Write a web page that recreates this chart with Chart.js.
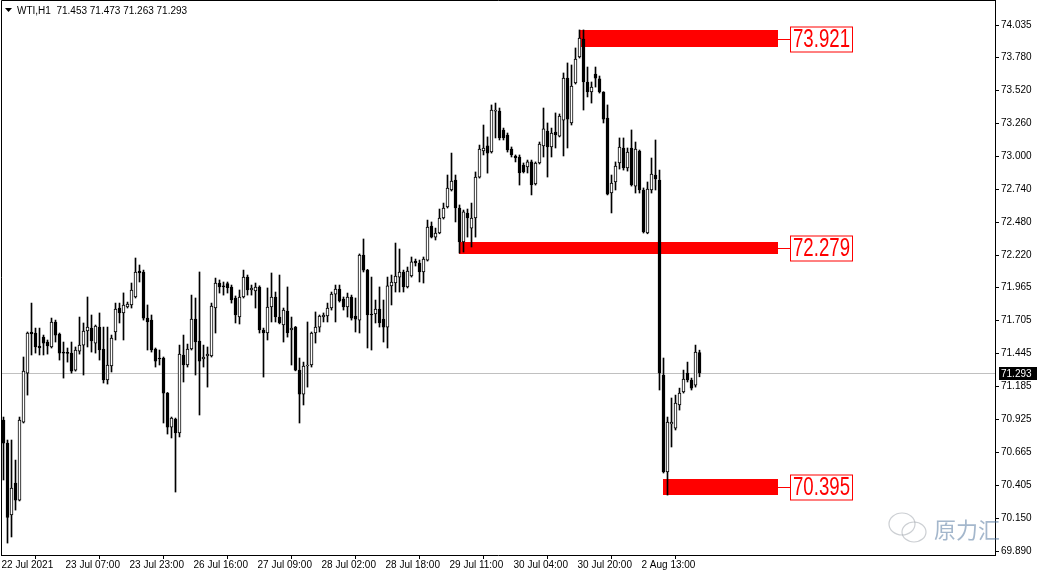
<!DOCTYPE html>
<html>
<head>
<meta charset="utf-8">
<script src="https://cdn.jsdelivr.net/npm/chart.js@4.4.1/dist/chart.umd.min.js"></script>
<style>
  html, body { margin: 0; padding: 0; background: #fff; overflow: hidden; }
  canvas { display: block; }
</style>
</head>
<body>
<canvas id="wtiChart" width="1038" height="576"></canvas>
<script>
// ============ WTI H1 candles ============
const symbolTitle = 'WTI,H1  71.453 71.473 71.263 71.293';

// one label every 16 bars
const timeLabels = ['22 Jul 2021', '23 Jul 07:00', '23 Jul 23:00', '26 Jul 16:00', '27 Jul 09:00',
  '28 Jul 02:00', '28 Jul 18:00', '29 Jul 11:00', '30 Jul 04:00', '30 Jul 20:00', '2 Aug 13:00'];

const priceTicks = [69.890, 70.150, 70.405, 70.665, 70.925, 71.185, 71.445, 71.705, 71.965,
  72.220, 72.480, 72.740, 73.000, 73.260, 73.520, 73.780, 74.035];

const opens = [
  70.922, 70.741, 70.174, 70.426, 70.292, 70.906, 71.292, 71.616, 71.608, 71.506,
  71.576, 71.537, 71.498, 71.695, 71.600, 71.458, 71.455, 71.450, 71.316, 71.466,
  71.513, 71.624, 71.647, 71.529, 71.655, 71.482, 71.238, 71.348, 71.616, 71.805,
  71.766, 71.813, 71.829, 71.892, 72.096, 72.089, 71.726, 71.710, 71.482, 71.411,
  71.411, 71.135, 70.867, 70.930, 70.820, 71.435, 71.356, 71.482, 71.718, 71.545,
  71.403, 71.427, 71.427, 71.805, 72.002, 71.979, 71.998, 71.971, 71.884, 71.734,
  71.892, 72.049, 71.947, 71.939, 71.971, 71.632, 71.608, 71.813, 71.892, 71.734,
  71.671, 71.781, 71.632, 71.655, 71.316, 71.127, 71.348, 71.356, 71.608, 71.655,
  71.734, 71.742, 71.805, 71.915, 71.955, 71.876, 71.813, 71.892, 71.742, 71.710,
  72.223, 72.104, 71.758, 71.758, 71.797, 71.718, 71.655, 71.979, 72.002, 72.049,
  72.089, 71.971, 72.057, 72.175, 72.160, 72.089, 72.183, 72.451, 72.364, 72.396,
  72.514, 72.601, 72.735, 72.814, 72.593, 72.325, 72.554, 72.435, 72.514, 72.837,
  73.042, 73.082, 73.034, 73.357, 73.357, 73.208, 73.168, 73.058, 73.003, 72.995,
  72.932, 72.916, 72.956, 72.782, 72.948, 73.082, 73.200, 73.074, 73.192, 73.160,
  73.286, 73.617, 73.263, 73.578, 73.783, 73.925, 73.586, 73.507, 73.649, 73.610,
  73.507, 73.302, 72.711, 72.798, 72.948, 73.066, 72.908, 73.066, 72.766, 73.042,
  72.735, 72.396, 72.735, 72.853, 72.814, 71.277, 70.513, 70.891, 70.859, 71.041,
  71.143, 71.293, 71.238, 71.198, 71.453
];
const highs = [
  70.946, 70.765, 70.765, 70.607, 70.946, 71.419, 71.616, 71.844, 71.647, 71.647,
  71.592, 71.553, 71.726, 71.710, 71.608, 71.537, 71.490, 71.537, 71.498, 71.734,
  71.687, 71.892, 71.750, 71.671, 71.766, 71.655, 71.655, 71.592, 71.844, 71.844,
  71.924, 71.852, 72.002, 72.199, 72.144, 72.104, 71.829, 71.750, 71.490, 71.474,
  71.419, 71.140, 70.946, 70.938, 71.513, 71.592, 71.521, 71.907, 71.884, 72.089,
  71.513, 71.498, 71.844, 72.041, 72.026, 72.010, 72.010, 71.986, 71.900, 71.947,
  72.104, 72.065, 71.986, 72.002, 71.980, 71.647, 71.963, 72.081, 71.931, 72.065,
  71.805, 71.971, 71.734, 71.660, 71.411, 71.379, 71.695, 71.616, 71.774, 71.750,
  71.766, 71.844, 71.931, 71.986, 71.986, 71.892, 71.923, 71.907, 71.884, 72.231,
  72.349, 72.110, 72.049, 71.868, 71.971, 71.868, 72.049, 72.065, 72.317, 72.270,
  72.104, 72.128, 72.207, 72.191, 72.183, 72.207, 72.498, 72.483, 72.435, 72.585,
  72.632, 72.853, 73.026, 72.853, 72.617, 72.577, 72.585, 72.632, 72.877, 73.089,
  73.247, 73.153, 73.405, 73.420, 73.381, 73.223, 73.184, 73.074, 73.011, 73.011,
  72.948, 72.971, 72.971, 72.956, 73.113, 73.381, 73.263, 73.223, 73.342, 73.334,
  73.657, 73.736, 73.720, 73.854, 73.996, 73.996, 73.704, 73.586, 73.704, 73.633,
  73.510, 73.405, 72.853, 72.956, 73.145, 73.145, 73.066, 73.208, 73.113, 73.050,
  72.751, 72.798, 72.987, 73.129, 72.892, 71.411, 70.946, 71.096, 71.119, 71.174,
  71.316, 71.379, 71.253, 71.513, 71.473
];
const lows = [
  70.450, 69.953, 70.001, 70.213, 70.285, 70.899, 71.119, 71.435, 71.450, 71.435,
  71.435, 71.442, 71.490, 71.537, 71.395, 71.253, 71.379, 71.292, 71.308, 71.442,
  71.277, 71.498, 71.458, 71.450, 71.395, 71.214, 71.206, 71.301, 71.553, 71.687,
  71.553, 71.805, 71.805, 71.884, 72.010, 71.710, 71.474, 71.458, 71.340, 71.356,
  70.899, 70.812, 70.781, 70.355, 70.789, 71.222, 71.340, 71.474, 71.277, 70.962,
  71.340, 71.182, 71.419, 71.608, 71.923, 71.907, 71.923, 71.844, 71.687, 71.679,
  71.884, 71.907, 71.907, 71.805, 71.608, 71.261, 71.553, 71.695, 71.695, 71.680,
  71.537, 71.576, 71.356, 71.310, 70.899, 71.041, 71.182, 71.340, 71.529, 71.616,
  71.695, 71.695, 71.789, 71.695, 71.852, 71.789, 71.734, 71.710, 71.616, 71.608,
  72.089, 71.490, 71.474, 71.687, 71.655, 71.537, 71.490, 71.829, 71.931, 71.931,
  71.931, 71.963, 72.049, 72.136, 72.010, 72.002, 72.175, 72.357, 72.341, 72.390,
  72.506, 72.593, 72.727, 72.483, 72.238, 72.246, 72.364, 72.286, 72.364, 72.829,
  73.011, 72.868, 73.026, 73.145, 73.129, 73.129, 73.034, 72.995, 72.956, 72.774,
  72.869, 72.869, 72.696, 72.774, 72.940, 72.995, 72.837, 72.995, 73.066, 73.153,
  73.003, 73.066, 73.247, 73.570, 73.775, 73.365, 73.468, 73.420, 73.546, 73.499,
  73.263, 72.696, 72.554, 72.735, 72.900, 72.892, 72.884, 72.766, 72.711, 72.711,
  72.396, 72.390, 72.711, 72.735, 71.159, 70.505, 70.331, 70.710, 70.844, 71.001,
  71.135, 71.222, 71.159, 71.182, 71.263
];
const closes = [
  70.741, 70.155, 70.387, 70.292, 70.922, 71.308, 71.608, 71.600, 71.498, 71.490,
  71.529, 71.506, 71.695, 71.592, 71.450, 71.450, 71.448, 71.308, 71.474, 71.513,
  71.624, 71.655, 71.545, 71.663, 71.474, 71.238, 71.356, 71.569, 71.797, 71.766,
  71.829, 71.837, 71.947, 72.089, 72.081, 71.726, 71.695, 71.474, 71.387, 71.403,
  71.135, 70.867, 70.938, 70.820, 71.443, 71.356, 71.482, 71.718, 71.537, 71.387,
  71.419, 71.443, 71.821, 72.002, 71.971, 71.971, 71.966, 71.868, 71.750, 71.892,
  72.049, 71.947, 71.963, 71.971, 71.632, 71.608, 71.813, 71.892, 71.734, 71.687,
  71.789, 71.608, 71.647, 71.316, 71.127, 71.348, 71.356, 71.608, 71.655, 71.742,
  71.750, 71.805, 71.915, 71.955, 71.860, 71.813, 71.892, 71.726, 71.718, 72.223,
  72.104, 71.750, 71.750, 71.797, 71.687, 71.655, 71.979, 72.010, 72.057, 72.089,
  71.971, 72.096, 72.168, 72.160, 72.089, 72.191, 72.443, 72.364, 72.396, 72.514,
  72.593, 72.751, 72.806, 72.593, 72.325, 72.562, 72.514, 72.514, 72.837, 73.058,
  73.066, 73.026, 73.365, 73.365, 73.145, 73.145, 73.050, 73.011, 72.987, 72.869,
  72.877, 72.956, 72.774, 72.948, 73.097, 73.216, 73.074, 73.184, 73.168, 73.318,
  73.617, 73.294, 73.554, 73.767, 73.932, 73.586, 73.507, 73.546, 73.617, 73.507,
  73.294, 72.703, 72.790, 72.924, 73.074, 72.908, 73.034, 72.774, 73.058, 72.735,
  72.404, 72.743, 72.861, 72.822, 71.293, 70.513, 70.906, 70.906, 71.056, 71.135,
  71.245, 71.238, 71.174, 71.458, 71.293
];

// support / resistance zones (bar index where each starts, price band)
const levelValues  = [73.921, 72.279, 70.395];
const levelTops    = [73.996, 72.327, 70.457];
const levelBottoms = [73.862, 72.231, 70.331];
const levelStart   = [143.9, 113.9, 164.9];
const levelEnd     = 193.6;

const barIdx = opens.map((_, i) => i);
const lastClose = closes[closes.length - 1];

const FONT = '"Liberation Sans", Arial, sans-serif';

const overlays = {
  id: 'overlays',
  beforeDatasetsDraw(chart) {
    const { ctx, chartArea: a, scales: { x, y } } = chart;
    ctx.save();
    // bid line
    const yc = Math.round(y.getPixelForValue(lastClose)) + 0.5;
    ctx.strokeStyle = '#c0c0c0';
    ctx.lineWidth = 1;
    ctx.beginPath();
    ctx.moveTo(a.left, yc);
    ctx.lineTo(a.right, yc);
    ctx.stroke();
    // red zones
    ctx.fillStyle = '#ff0000';
    levelValues.forEach((v, i) => {
      const x0 = Math.round(x.getPixelForValue(levelStart[i]));
      const x1 = Math.round(x.getPixelForValue(levelEnd));
      const y0 = Math.round(y.getPixelForValue(levelTops[i]));
      const y1 = Math.round(y.getPixelForValue(levelBottoms[i]));
      ctx.fillRect(x0, y0, x1 - x0, y1 - y0);
    });
    ctx.restore();
  },
  afterDraw(chart) {
    const { ctx, chartArea: a, scales: { x, y } } = chart;
    ctx.save();

    // frame (left + top)
    ctx.strokeStyle = '#000';
    ctx.lineWidth = 1;
    ctx.beginPath();
    ctx.moveTo(1.5, a.bottom);
    ctx.lineTo(1.5, 0.5);
    ctx.lineTo(a.right, 0.5);
    ctx.stroke();

    // level labels
    levelValues.forEach((v, i) => {
      const xe = Math.round(x.getPixelForValue(levelEnd));
      const yv = Math.round(y.getPixelForValue(v)) + 0.5;
      const bx = xe + 12, bw = 62, bh = 25;
      ctx.strokeStyle = '#ff0000';
      ctx.beginPath();
      ctx.moveTo(xe, yv);
      ctx.lineTo(bx, yv);
      ctx.stroke();
      ctx.fillStyle = '#fff';
      ctx.fillRect(bx + 0.5, yv - bh / 2, bw, bh);
      ctx.strokeRect(bx + 0.5, yv - bh / 2, bw, bh);
      const txt = v.toFixed(3);
      ctx.font = '25px ' + FONT;
      const tw = ctx.measureText(txt).width;
      ctx.save();
      ctx.translate(bx + 3, yv + 1);
      ctx.scale(57 / tw, 1);
      ctx.fillStyle = '#ff0000';
      ctx.textBaseline = 'middle';
      ctx.fillText(txt, 0, 0);
      ctx.restore();
    });

    // bid price tag
    const yc = Math.round(y.getPixelForValue(lastClose));
    ctx.fillStyle = '#000';
    ctx.fillRect(a.right + 4, yc - 6, 38, 13);
    ctx.fillStyle = '#fff';
    ctx.font = '10px ' + FONT;
    ctx.textBaseline = 'middle';
    ctx.fillText(lastClose.toFixed(3), a.right + 6, yc + 1);

    // title
    ctx.fillStyle = '#000';
    ctx.beginPath();
    ctx.moveTo(5, 8); ctx.lineTo(12, 8); ctx.lineTo(8.5, 12); ctx.closePath();
    ctx.fill();
    ctx.font = '10px ' + FONT;
    ctx.fillText(symbolTitle, 17, 11);

    // watermark
    ctx.globalAlpha = 0.5;
    ctx.strokeStyle = '#9aa0a8';
    ctx.lineWidth = 1.2;
    ctx.beginPath(); ctx.ellipse(902, 524, 13, 11, 0, 0, Math.PI * 2); ctx.stroke();
    ctx.beginPath(); ctx.ellipse(914, 532, 12, 10, 0, 0, Math.PI * 2); ctx.stroke();
    ctx.fillStyle = '#4a6f9a';
    ctx.font = '22px "Noto Sans CJK SC", sans-serif';
    ctx.textBaseline = 'middle';
    ctx.fillText('原力汇', 934, 530);
    ctx.restore();
  }
};

new Chart(document.getElementById('wtiChart'), {
  type: 'bar',
  data: {
    datasets: [{
      label: 'wick',
      data: barIdx.map(i => ({ x: i, y: [lows[i], highs[i]] })),
      backgroundColor: '#000',
      borderWidth: 0,
      barThickness: 1,
      grouped: false,
      order: 1
    }, {
      label: 'body',
      data: barIdx.map(i => ({ x: i, y: [opens[i], closes[i]] })),
      backgroundColor: barIdx.map(i => closes[i] < opens[i] ? '#000' : '#fff'),
      borderColor: '#000',
      borderWidth: 1,
      borderSkipped: false,
      barThickness: 3,
      minBarLength: 1,
      grouped: false,
      order: 0
    }]
  },
  options: {
    responsive: false,
    animation: false,
    events: [],
    layout: { padding: { left: 1, top: 0, right: 0, bottom: 0 } },
    plugins: { legend: { display: false }, tooltip: { enabled: false } },
    scales: {
      x: {
        type: 'linear',
        min: -0.625,
        max: 247.875,
        offset: false,
        grid: { drawOnChartArea: false, drawTicks: true, tickLength: 4, color: '#000' },
        border: { display: true, color: '#000' },
        afterBuildTicks: s => { s.ticks = timeLabels.map((_, k) => ({ value: k * 16 })); },
        afterFit: s => { s.height = 21; s.paddingLeft = 0; s.paddingRight = 0; },
        ticks: {
          autoSkip: false,
          maxRotation: 0,
          align: 'start',
          padding: 0,
          labelOffset: -2,
          color: '#000',
          font: { family: FONT, size: 10 },
          callback: (v, i) => timeLabels[i]
        }
      },
      y: {
        type: 'linear',
        position: 'right',
        min: 69.859,
        max: 74.232,
        grid: { drawOnChartArea: false, drawTicks: true, tickLength: 4, color: '#000' },
        border: { display: true, color: '#000' },
        afterBuildTicks: s => { s.ticks = priceTicks.map(v => ({ value: v })); },
        afterFit: s => { s.width = 43; s.paddingTop = 0; s.paddingBottom = 0; },
        ticks: {
          padding: 2,
          color: '#000',
          font: { family: FONT, size: 10 },
          callback: v => v.toFixed(3)
        }
      }
    }
  },
  plugins: [overlays]
});
</script>
</body>
</html>
